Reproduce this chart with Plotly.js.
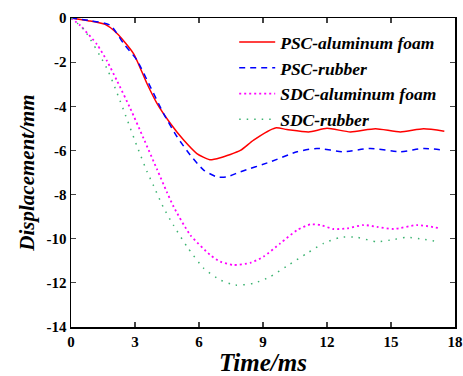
<!DOCTYPE html>
<html><head><meta charset="utf-8">
<script src="https://cdn.plot.ly/plotly-3.0.1.min.js"></script>
<style>body{margin:0;background:#fff}#c{width:463px;height:376px}</style>
</head><body><div id="c"></div>
<script>
const names = ["PSC-aluminum foam","PSC-rubber","SDC-aluminum foam","SDC-rubber"];
const t1 = [0,0.8,1.6,2.16,2.93,3.56,4.03,4.66,5.28,5.9,6.5,7.0,7.94,8.56,9.58,10.12,11.14,12.0,13.1,14.27,15.44,16.53,17.5];
const d1 = [0,-0.12,-0.29,-0.7,-1.61,-2.97,-3.87,-4.78,-5.53,-6.14,-6.42,-6.33,-6.0,-5.53,-4.98,-5.05,-5.16,-5.0,-5.16,-5.02,-5.16,-5.02,-5.13];
const t2 = [0,0.9,1.84,2.47,3.09,3.72,4.34,4.97,5.59,6.22,6.84,7.3,7.94,9.34,10.6,11.53,12.78,14.03,15.44,16.53,17.5];
const d2 = [0,-0.12,-0.33,-1.16,-1.91,-3.12,-4.33,-5.38,-6.21,-6.89,-7.2,-7.2,-6.97,-6.52,-6.06,-5.91,-6.06,-5.91,-6.06,-5.91,-5.99];
const t3 = [0,0.44,1.22,1.69,2.16,2.78,3.4,4.03,4.5,4.81,5.59,6.53,7.0,7.62,8.41,9.03,9.81,10.6,11.22,11.69,12.31,12.94,13.72,14.34,15.13,16.22,17.31];
const d3 = [0,-0.35,-1.2,-1.95,-2.85,-4.1,-5.45,-6.85,-7.9,-8.55,-9.83,-10.74,-11.04,-11.19,-11.09,-10.81,-10.21,-9.61,-9.35,-9.38,-9.56,-9.53,-9.38,-9.46,-9.56,-9.38,-9.53];
const t4 = [0,0.59,1.69,2.16,2.63,3.09,3.56,3.87,4.34,4.81,5.44,6.22,7.0,7.7,8.56,9.34,10.12,11.06,11.84,12.63,13.41,14.34,14.97,15.75,16.53,17.23];
const d4 = [0,-0.5,-2.3,-3.4,-4.6,-5.8,-6.95,-7.6,-8.6,-9.4,-10.36,-11.34,-11.87,-12.1,-12.02,-11.72,-11.24,-10.66,-10.21,-9.94,-9.94,-10.14,-10.06,-9.94,-10.03,-10.14];
const xTicks = [0,3,6,9,12,15,18];
const yTicks = [0,-2,-4,-6,-8,-10,-12,-14];

const styles = [
  {color:"#ff0000", width:1.5, dash:"solid"},
  {color:"#0000ff", width:1.5, dash:"6px,5px"},
  {color:"#ff00ff", width:1.8, dash:"2px,3px"},
  {color:"#3cb371", width:1.5, dash:"1.5px,6px"}
];
const xs=[t1,t2,t3,t4], ys=[d1,d2,d3,d4];
const data = names.map((n,i)=>({x:xs[i],y:ys[i],name:n,type:"scatter",mode:"lines",
  line:Object.assign({shape:"spline",smoothing:0.6},styles[i])}));

const font = "Liberation Serif";
const layout = {
  width:463,height:376,
  margin:{l:71,r:8,t:18,b:49},
  paper_bgcolor:"#fff",plot_bgcolor:"#fff",
  font:{family:font,color:"#000"},
  showlegend:true,
  legend:{x:0.425,y:0.98,xanchor:"left",yanchor:"top",bgcolor:"rgba(0,0,0,0)",
    font:{family:font,size:17.5,weight:"bold",style:"italic",color:"#000"},tracegroupgap:0,itemwidth:36},
  xaxis:{range:[0,18],tickvals:xTicks,ticktext:xTicks.map(String),
    showline:true,linecolor:"#000",linewidth:1.5,mirror:"ticks",ticks:"inside",ticklen:5,tickwidth:1.2,
    showgrid:false,zeroline:false,
    tickfont:{family:font,size:15,weight:"bold",color:"#000"},
    title:{text:"Time/ms",font:{family:font,size:25,weight:"bold",style:"italic",color:"#000"},standoff:6}},
  yaxis:{range:[-14,0],tickvals:yTicks,ticktext:yTicks.map(String),
    showline:true,linecolor:"#000",linewidth:1.5,mirror:"ticks",ticks:"inside",ticklen:5,tickwidth:1.2,
    showgrid:false,zeroline:false,
    tickfont:{family:font,size:15,weight:"bold",color:"#000"},
    title:{text:"Displacement/mm",font:{family:font,size:21,weight:"bold",style:"italic",color:"#000"},standoff:6}}
};
Plotly.newPlot("c",data,layout,{displayModeBar:false,staticPlot:true});
</script></body></html>
